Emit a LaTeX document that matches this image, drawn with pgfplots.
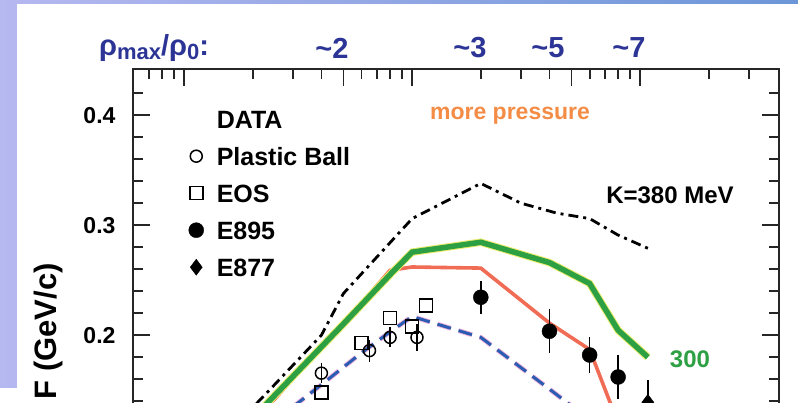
\documentclass[border=0pt]{standalone}
\usepackage{fontspec}
\setmainfont{Liberation Sans}
\usepackage{pgfplots}
\pgfplotsset{compat=1.18}
\definecolor{bgL}{RGB}{182,184,240}
\definecolor{bgR}{RGB}{108,150,216}
\definecolor{flowgreen}{RGB}{44,160,66}
\definecolor{flowyellow}{RGB}{236,236,110}
\definecolor{flowred}{RGB}{240,108,84}
\definecolor{flowblue}{RGB}{42,92,180}
\definecolor{flowpink}{RGB}{240,176,214}
\definecolor{rhoblue}{RGB}{44,52,150}
\definecolor{presorange}{RGB}{244,140,70}
\begin{document}
\begin{tikzpicture}[x=1pt,y=1pt]
\useasboundingbox (0,0) rectangle (798,403);
\clip (0,0) rectangle (798,403);
\shade[left color=bgL,right color=bgR] (0,0) rectangle (798,403);
\fill[white] (17,0) rectangle (798,399);
\fill[white] (0,0) rectangle (17,15);
\begin{axis}[
  at={(133pt,334pt)}, anchor=north west,
  scale only axis, width=646pt, height=486.2pt,
  xmode=log, xmin=0.0597, xmax=40.6, ymin=0, ymax=0.442,
  xtick={0.1,0.5,1,5,10},
  minor xtick={0.07,0.08,0.09,0.2,0.3,0.4,0.6,0.7,0.8,0.9,2,3,4,6,7,8,9,20,30},
  xticklabel=\empty,
  ytick={0,0.1,0.2,0.3,0.4},
  yticklabels={,,0.2,0.3,0.4},
  minor ytick={0.02,0.04,0.06,0.08,0.12,0.14,0.16,0.18,0.22,0.24,0.26,0.28,0.32,0.34,0.36,0.38,0.42},
  yticklabel style={font=\bfseries\fontsize{23}{23}\selectfont, xshift=-14pt},
  axis line style={line width=2pt, black!85},
  tick style={line width=1.8pt, black!85},
  major tick length=17pt, minor tick length=10pt,
  tick align=inside,
  legend style={at={(0.0844,0.9198)}, anchor=north west, draw=none, fill=none,
    inner sep=0pt, font=\bfseries\fontsize{25}{25}\selectfont, row sep=15pt,
    nodes={inner sep=2pt, text height=18pt, text depth=0pt},
    /tikz/every odd column/.append style={column sep=11pt}},
  legend cell align=left,
  legend entries={DATA, Plastic Ball, EOS, E895, E877},
]
% K=380 dash-dot
\addplot[forget plot, black, line width=2.8pt, dash pattern=on 10pt off 5pt on 3pt off 5pt] coordinates {
 (0.15,0.108) (0.222,0.144) (0.4,0.200) (0.5,0.238) (1.0,0.306) (2.0,0.338)
 (3.0,0.320) (4.3,0.311) (6.0,0.306) (8.0,0.291) (10.8,0.279)};
% red solid
\addplot[forget plot, flowred, line width=3.6pt] coordinates {
 (0.15,0.100) (0.25,0.142) (0.4,0.190) (0.6,0.229) (0.8,0.259) (1.0,0.262)
 (2.0,0.261) (4.0,0.211) (6.0,0.187) (8.0,0.120)};
% green thick (K=300)
\addplot[forget plot, flowyellow, line width=7.5pt] coordinates {
 (0.15,0.096) (0.231,0.138) (0.483,0.207) (0.825,0.258) (1.0,0.2755) (2.0,0.2845)
 (4.0,0.266) (6.0,0.247) (8.0,0.2045) (10.8,0.180)};
\addplot[forget plot, flowgreen, line width=5.5pt] coordinates {
 (0.15,0.096) (0.231,0.138) (0.483,0.207) (0.825,0.258) (1.0,0.2755) (2.0,0.2845)
 (4.0,0.266) (6.0,0.247) (8.0,0.2045) (10.8,0.180)};
% blue dashed
\addplot[forget plot, flowpink, line width=4.8pt, dash pattern=on 14pt off 8pt] coordinates {
 (0.15,0.085) (0.25,0.122) (0.4,0.155) (0.6,0.184) (0.8,0.203) (1.0,0.217)
 (2.0,0.198) (4.0,0.151) (6.0,0.123)};
\addplot[forget plot, flowblue, line width=3pt, dash pattern=on 14pt off 8pt] coordinates {
 (0.15,0.085) (0.25,0.122) (0.4,0.155) (0.6,0.184) (0.8,0.203) (1.0,0.217)
 (2.0,0.198) (4.0,0.151) (6.0,0.123)};
% legend title
\addlegendimage{empty legend}
% Plastic Ball
\addplot[only marks, black, mark=o, mark size=6pt, mark options={line width=1.5pt},
  error bars/.cd, y dir=both, y explicit, error mark=none,
  error bar style={line width=1.5pt, black}] coordinates {
 (0.4,0.1655) +- (0,0.009)
 (0.65,0.186) +- (0,0.010)
 (0.8,0.198) +- (0,0.009)
 (1.05,0.198) +- (0,0.012)};
% EOS
\addplot[only marks, black, mark=square, mark size=6.5pt, mark options={line width=1.5pt}] coordinates {
 (0.4,0.148) (0.6,0.193) (0.8,0.2155) (1.0,0.208) (1.15,0.227)};
% E895
\addplot[only marks, black, mark=*, mark size=7.5pt,
  error bars/.cd, y dir=both, y explicit, error mark=none,
  error bar style={line width=1.5pt, black}] coordinates {
 (2,0.2345) +- (0,0.015)
 (4,0.2036) +- (0,0.020)
 (6,0.182) +- (0,0.016)
 (8,0.162) +- (0,0.020)};
% E877
\addplot[only marks, black, mark=diamond*, mark size=8pt,
  error bars/.cd, y dir=both, y explicit, error mark=none,
  error bar style={line width=1.5pt, black}] coordinates {
 (10.8,0.139) +- (0,0.020)};
\end{axis}
% annotations
\node[rotate=90, anchor=east, inner sep=0pt, font=\bfseries\fontsize{31}{31}\selectfont] at (48,140) {F (GeV/c)};
\node[rhoblue, font=\bfseries\fontsize{29}{29}\selectfont] at (154,355) {ρ\raisebox{-0.15em}{\fontsize{22}{22}\selectfont max}/ρ\raisebox{-0.15em}{\fontsize{22}{22}\selectfont 0}:};
\node[rhoblue, font=\bfseries\fontsize{29}{29}\selectfont] at (332,355) {\textasciitilde 2};
\node[rhoblue, font=\bfseries\fontsize{29}{29}\selectfont] at (470,355) {\textasciitilde 3};
\node[rhoblue, font=\bfseries\fontsize{29}{29}\selectfont] at (548,355) {\textasciitilde 5};
\node[rhoblue, font=\bfseries\fontsize{29}{29}\selectfont] at (629,355) {\textasciitilde 7};
\node[presorange, font=\bfseries\fontsize{23}{23}\selectfont] at (510,287) {more pressure};
\node[black, font=\bfseries\fontsize{24}{24}\selectfont] at (670,208) {K=380 MeV};
\node[flowgreen, font=\bfseries\fontsize{24}{24}\selectfont] at (690,44) {300};
\end{tikzpicture}
\end{document}
